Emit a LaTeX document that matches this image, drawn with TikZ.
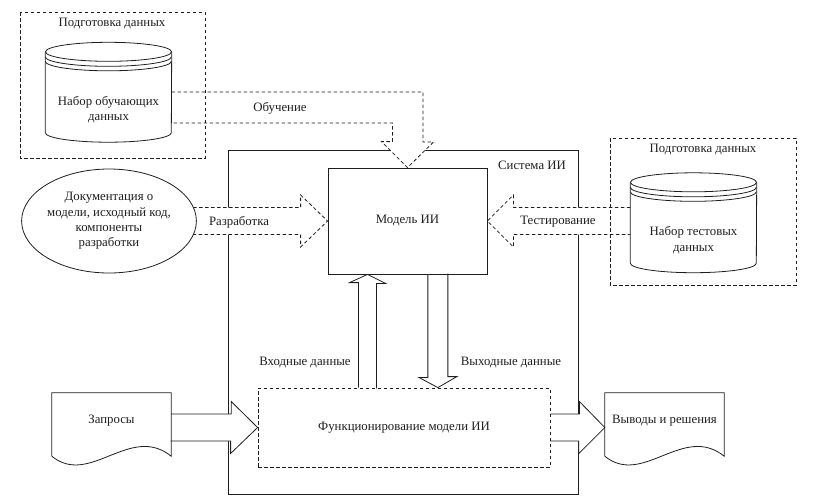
\documentclass[tikz,border=0pt]{standalone}
\usepackage{fontspec}
\setmainfont{Liberation Serif}
\usetikzlibrary{calc,shapes.geometric}
\definecolor{INK}{HTML}{1E1E1E}
\pgfdeclarelayer{frame}
\pgfdeclarelayer{flow}
\pgfsetlayers{frame,flow,main}

% storage cylinder round a text node
\newcommand\storecyl[1]{%
  \draw[thinline] ($(#1.north west)+(0,-25)$) -- ($(#1.south west)+(0,-9.5)$)
    arc[start angle=180, end angle=360, x radius=63pt, y radius=9.5pt]
    -- ($(#1.north east)+(0,-25)$);
  \draw[thinline] ($(#1.north)+(0,-25)$) ellipse [x radius=63pt, y radius=9.5pt];
  \draw[thinline] ($(#1.north west)+(0,-20)$)
    arc[start angle=180, end angle=360, x radius=63pt, y radius=9.5pt];
  \draw[thinline] ($(#1.north west)+(0,-15.5)$)
    arc[start angle=180, end angle=360, x radius=63pt, y radius=9.5pt];
}
% document sheet with a wavy bottom
\newcommand\docsheet[1]{%
  \draw[thinline] ($(#1.south west)+(0,7)$) -- (#1.north west) -- (#1.north east)
    -- ($(#1.south east)+(0,7)$)
    .. controls +(-41,-33) and +(38,31) .. ($(#1.south west)+(0,7)$);
}

\begin{document}
\begin{tikzpicture}[
    x=1pt, y=-1pt,
    thinline/.style={draw=INK, line width=0.8pt},
    dashbox/.style={draw=INK, line width=0.8pt, dash pattern=on 3.5pt off 2.5pt},
    blockarrow/.style={draw=INK, fill=white, line width=0.8pt},
    dasharrow/.style={blockarrow, dash pattern=on 3.5pt off 2.5pt},
    lab/.style={font=\fontsize{12.8}{15.3}\selectfont, text=INK, align=center, inner sep=0pt},
    cylbox/.style={lab, minimum width=126pt, minimum height=65pt},
    sheet/.style={lab, minimum width=119pt, minimum height=56pt},
  ]
  \useasboundingbox (0,0) rectangle (826,499);

  % AI system frame
  \begin{pgfonlayer}{frame}
    \draw[thinline] (228,150) rectangle (578,494);
  \end{pgfonlayer}
  \node[lab] (systitle) at (532,165) {Система ИИ};

  % blocks
  \node[lab, thinline, rectangle, minimum width=159pt, minimum height=106pt] (model) at (407.5,221) {Модель ИИ};
  \node[lab, dashbox, rectangle, minimum width=292pt, minimum height=79pt] (func) at (404,427.5) {Функционирование модели ИИ};
  \node[lab, thinline, ellipse, fill=white, minimum width=158pt, minimum height=104pt] (docs) at (109,221)
    {Документация о\\модели, исходный код,\\компоненты\\разработки};

  % data preparation
  \draw[dashbox] (20,12) rectangle (205,158);
  \node[lab] (prepLtitle) at (112,24) {Подготовка данных};
  \node[cylbox] (trainset) at (108.5,109.5) {Набор обучающих\\данных};
  \storecyl{trainset}
  \draw[dashbox] (610,138) rectangle (796,285);
  \node[lab] (prepRtitle) at (703,150) {Подготовка данных};
  \node[cylbox] (testset) at (693.5,240) {Набор тестовых\\данных};
  \storecyl{testset}

  % requests and results
  \node[sheet] (queries) at (111.5,421) {Запросы};
  \docsheet{queries}
  \node[sheet] (results) at (664.5,421) {Выводы и решения};
  \docsheet{results}

  \coordinate (inTip) at ($(model.south west)!0.25!(model.south east)$);
  \coordinate (outTip) at ($(model.south west)!0.69!(model.south east)$);

  \begin{pgfonlayer}{flow}
    % training
    \draw[dasharrow] (trainset.east |- 0,92) -- (423,92) -- (423,142) -- ++(10.5,0)
      -- (model.north) -- ++(-26,-26) -- ++(11,0) -- (392.5,123) -- (trainset.east |- 0,123);
    % development
    \draw[dasharrow] ($(docs.center)+(0,-13.5)$) -- ($(model.west)+(-27,-13.5)$) -- ++(0,-12.5)
      -- (model.west) -- ++(-27,26) -- ++(0,-12.5) -- ($(docs.center)+(0,13.5)$);
    % testing
    \draw[dasharrow] ($(testset.west |- model.east)+(0,-13.5)$) -- ($(model.east)+(26,-13.5)$) -- ++(0,-12.5)
      -- (model.east) -- ++(26,26) -- ++(0,-12.5) -- ($(testset.west |- model.east)+(0,13.5)$);
    % input / output data
    \draw[blockarrow] (inTip |- func.north) ++(-9,0) -- ++(0,-105) -- ++(-9,0)
      -- (inTip) -- ++(18,9) -- ++(-9,0) -- ++(0,105);
    \draw[blockarrow] (outTip |- model.south) ++(-10,0) -- ++(0,103) -- ++(-9,0)
      -- ($(outTip |- func.north)$) -- ++(19,-11) -- ++(-9,0) -- ++(0,-103);
    % requests in, results out
    \draw[blockarrow] (queries.east |- func.west) ++(0,-13.5) -- ++(60,0) -- ++(0,-12.5)
      -- (func.west) -- ++(-27,26) -- ++(0,-12.5) -- ++(-60,0);
    \draw[blockarrow] (func.east) ++(0,-13.5) -- ++(29,0) -- ++(0,-12.5)
      -- (results.west |- func.east) -- ++(-26,26) -- ++(0,-12.5) -- ++(-29,0);
  \end{pgfonlayer}

  % arrow labels
  \node[lab] (learnlbl) at (280,108) {Обучение};
  \node[lab] (devlbl) at (239,222) {Разработка};
  \node[lab] (testlbl) at (558,222) {Тестирование};
  \node[lab] (inlbl) at (305,363) {Входные данные};
  \node[lab] (outlbl) at (511,363) {Выходные данные};

\end{tikzpicture}
\end{document}
